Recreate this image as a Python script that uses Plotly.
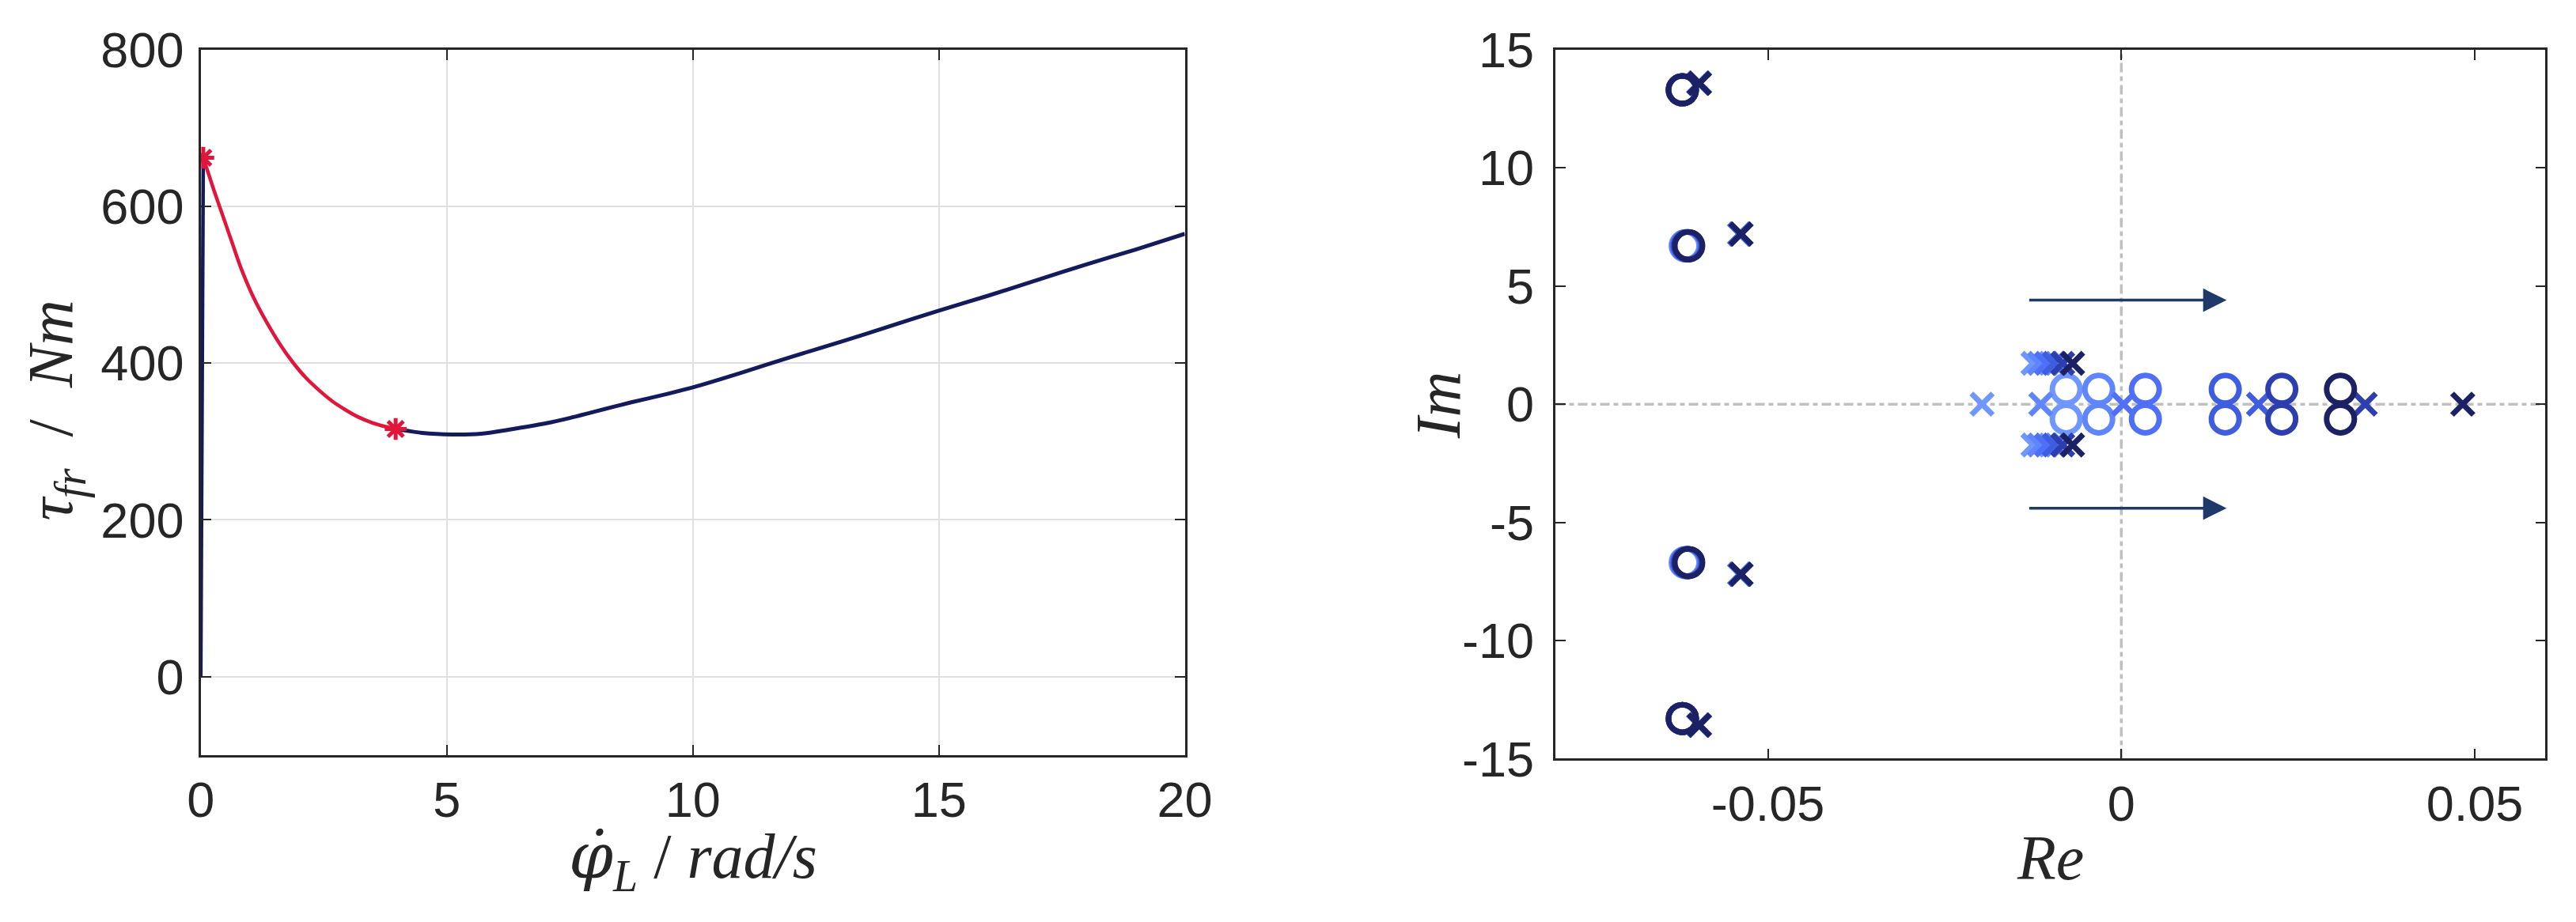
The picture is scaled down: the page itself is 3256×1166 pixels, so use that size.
import plotly.graph_objects as go
from plotly.subplots import make_subplots

# ---- left panel: friction torque over load speed ----
speed_jump = [0.0, 0.02, 0.05]
torque_jump = [0.0, 330.0, 662.0]

speed_stribeck = [0.05, 0.27, 0.48, 0.64, 0.80, 1.07, 1.34, 1.61, 1.87, 2.14,
                  2.41, 2.68, 2.95, 3.21, 3.48, 3.75, 3.96]
torque_stribeck = [662, 620, 582, 553, 524, 484, 452, 424, 401, 381,
                   365, 351, 340, 331, 324, 319, 316]

speed_viscous = [3.96, 4.5, 5.1, 5.7, 6.25, 7.0, 7.5, 8.0, 8.75, 9.5, 10,
                 11, 12, 13, 14, 15, 16, 17, 18, 19, 20]
torque_viscous = [316, 311, 309, 310, 315, 323, 330, 338, 350, 361, 369,
                  388, 408, 427, 447, 467, 486, 506, 526, 545, 565]

speed_breakpoints = [0.05, 3.96]
torque_breakpoints = [662, 316]

# ---- right panel: pole / zero map, one entry per case (light -> dark) ----
case_colors = ['#7096ff', '#5f86ff', '#4f70f6', '#3f5ddf', '#2d3faf', '#1b2163']

pole_real_re = [-0.0197, -0.0114, 0.0003, 0.0194, 0.0345, 0.0483]
pole_slow_re = [-0.0125, -0.0116, -0.0106, -0.0095, -0.0083, -0.0069]
pole_slow_im = 1.73
pole_mid_re = [-0.0540, -0.0540, -0.0539, -0.0539, -0.0538, -0.0538]
pole_mid_im = 7.2
pole_high_re = [-0.0598, -0.0598, -0.0597, -0.0597, -0.0597, -0.0597]
pole_high_im = 13.58

zero_low_re = [-0.0078, -0.0032, 0.0034, 0.0147, 0.0227, 0.0310]
zero_low_im = 0.63
zero_mid_re = [-0.0617, -0.0616, -0.0615, -0.0614, -0.0613, -0.0612]
zero_mid_im = 6.7
zero_high_re = [-0.0621, -0.0621, -0.0621, -0.0621, -0.0621, -0.0621]
zero_high_im = 13.3

arrow_re = [-0.0132, 0.0149]
arrow_im = [4.4, -4.4]

left_xticks = [0, 5, 10, 15, 20]
left_yticks = [0, 200, 400, 600, 800]
right_xticks = [-0.05, 0, 0.05]
right_xlabels = ['-0.05', '0', '0.05']
right_yticks = [-15, -10, -5, 0, 5, 10, 15]
right_ylabels = ['-15', '-10', '-5', '0', '5', '10', '15']

NAVY = '#141b5c'
RED = '#e0163c'
AX = '#262626'
TICK_FONT = dict(family='Liberation Sans, Arial', size=63, color=AX)
TITLE_FONT = dict(family='Liberation Serif, Times New Roman, serif', size=80, color=AX)

fig = make_subplots(rows=1, cols=2)

fig.add_trace(go.Scatter(x=speed_jump, y=torque_jump, mode='lines',
                         line=dict(color=NAVY, width=4.5)), row=1, col=1)
fig.add_trace(go.Scatter(x=speed_viscous, y=torque_viscous, mode='lines',
                         line=dict(color=NAVY, width=5, shape='spline', smoothing=0.8)),
              row=1, col=1)
fig.add_trace(go.Scatter(x=speed_stribeck, y=torque_stribeck, mode='lines',
                         line=dict(color=RED, width=4.5, shape='spline', smoothing=0.8)),
              row=1, col=1)
fig.add_trace(go.Scatter(x=speed_breakpoints, y=torque_breakpoints, mode='markers',
                         marker=dict(symbol='asterisk-open', size=23, color=RED,
                                     line=dict(width=5, color=RED))), row=1, col=1)

for k, col in enumerate(case_colors):
    zr = [zero_low_re[k], zero_low_re[k], zero_mid_re[k], zero_mid_re[k],
          zero_high_re[k], zero_high_re[k]]
    zi = [zero_low_im, -zero_low_im, zero_mid_im, -zero_mid_im,
          zero_high_im, -zero_high_im]
    pr = [pole_real_re[k], pole_slow_re[k], pole_slow_re[k], pole_mid_re[k],
          pole_mid_re[k], pole_high_re[k], pole_high_re[k]]
    pi = [0, pole_slow_im, -pole_slow_im, pole_mid_im, -pole_mid_im,
          pole_high_im, -pole_high_im]
    fig.add_trace(go.Scatter(x=zr, y=zi, mode='markers',
                             marker=dict(symbol='circle-open', size=35, color=col,
                                         line=dict(width=7))), row=1, col=2)
    fig.add_trace(go.Scatter(x=pr, y=pi, mode='markers',
                             marker=dict(symbol='x-thin-open', size=27, color=col,
                                         line=dict(width=7))), row=1, col=2)

# dash-dot reference axes through the origin
fig.add_shape(type='line', xref='x2', yref='y2 domain', x0=0, x1=0, y0=0, y1=1,
              line=dict(color='#c0c0c0', width=3.5, dash='12px,5px,6px,5px'), layer='below')
fig.add_shape(type='line', xref='x2 domain', yref='y2', x0=0, x1=1, y0=0, y1=0,
              line=dict(color='#c0c0c0', width=3.5, dash='12px,5px,6px,5px'), layer='below')

for im in arrow_im:
    fig.add_annotation(x=arrow_re[1], y=im, ax=arrow_re[0], ay=im,
                       xref='x2', yref='y2', axref='x2', ayref='y2',
                       text='', showarrow=True, arrowhead=2, arrowsize=1.7,
                       arrowwidth=3.5, arrowcolor='#1f3a68')

axis_common = dict(showline=True, linecolor=AX, linewidth=2.5, mirror='ticks',
                   ticks='inside', ticklen=13, tickwidth=2, tickcolor=AX,
                   tickfont=TICK_FONT, zeroline=False, automargin=False)

fig.update_xaxes(axis_common)
fig.update_yaxes(axis_common)

fig.update_layout(
    width=3256, height=1166,
    margin=dict(l=0, r=0, t=0, b=0, pad=0, autoexpand=False),
    paper_bgcolor='white', plot_bgcolor='white',
    showlegend=False,
    xaxis=dict(domain=[0.0755, 0.4575], range=[0, 20], tickvals=left_xticks,
               showgrid=True, gridcolor='#e0e0e0', gridwidth=2, ticklabelstandoff=0),
    yaxis=dict(domain=[0.188, 0.953], range=[-100, 800], tickvals=left_yticks,
               showgrid=True, gridcolor='#e0e0e0', gridwidth=2, ticklabelstandoff=6),
    xaxis2=dict(domain=[0.6015, 0.9857], range=[-0.08, 0.06], tickvals=right_xticks,
                ticktext=right_xlabels, showgrid=False, ticklabelstandoff=0),
    yaxis2=dict(domain=[0.184, 0.953], range=[-15, 15], tickvals=right_yticks,
                ticktext=right_ylabels, showgrid=False, ticklabelstandoff=12),
)

# axis titles (math-style italic)
title_common = dict(xref='paper', yref='paper', xanchor='center', yanchor='middle',
                    showarrow=False, font=TITLE_FONT)
fig.add_annotation(title_common, x=0.019, y=0.562, textangle=-90,
                   text='<i>τ<sub>fr</sub></i>&nbsp;&nbsp;/&nbsp;&nbsp;<i>Nm</i>')
fig.add_annotation(title_common, x=0.2665, y=0.074,
                   text='<span style="font-family:DejaVu Serif"><i>φ̇</i></span>'
                        '<i><sub>L</sub></i>&nbsp;/&nbsp;<i>rad/s</i>')
fig.add_annotation(title_common, x=0.7936, y=0.076, text='<i>Re</i>')
fig.add_annotation(title_common, x=0.556, y=0.567, textangle=-90, text='<i>Im</i>')

fig.write_html("out.html")
